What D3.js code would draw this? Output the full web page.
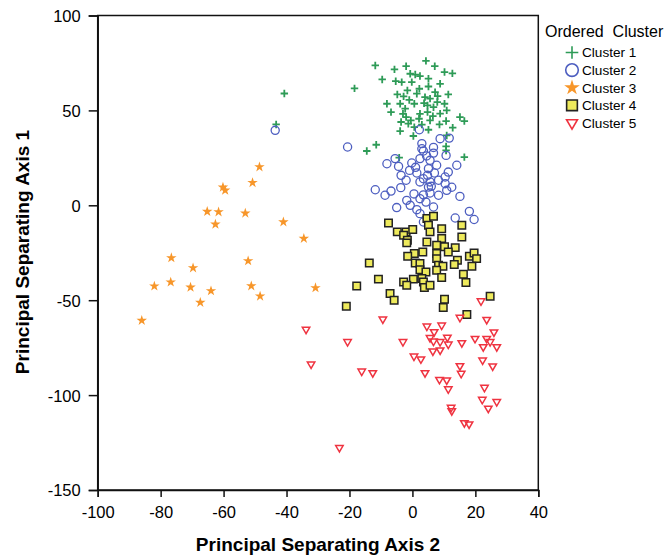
<!DOCTYPE html>
<html>
<head>
<meta charset="utf-8">
<script src="https://cdn.jsdelivr.net/npm/d3@7"></script>
<style>
body{margin:0;background:#fff;}
svg{display:block;font-family:"Liberation Sans",Arial,sans-serif;}
</style>
</head>
<body>
<svg id="chart" width="667" height="555"></svg>
<script>
// data: [axis2, axis1]
var cluster1=[[-40.7,58.9],[-43.3,42.6],[-11.8,73.7],[-5.7,71.6],[-2,73.3],[4.3,76.1],[7.1,73.3],[10.2,70.2],[12.7,69.5],
[-9.6,66.3],[-5.3,65.4],[-3.4,64.9],[-0.2,64.9],[0.9,68.9],[2.4,68.1],[5.1,66.7],[8.8,64],[-18.4,61.6],[-4.8,58.4],
[-1.6,60.5],[2.2,61.4],[5.1,62.6],[7.2,59.6],[11.4,58.4],[-8.1,53.5],[-3.9,53.5],[-2.3,50.9],[0.6,53.5],[3.7,53.8],
[5.6,56.2],[7.9,54.4],[10.2,53.5],[-6.8,49.1],[-3,48.2],[2.4,48.2],[4.8,49.1],[10.9,50],[-3.6,43.9],[-0.5,44.7],
[2.1,45.6],[5.6,44.7],[8.6,42.6],[10.7,44.4],[15.1,46.5],[16.5,44.4],[-3.9,39.1],[0.6,41.2],[5.1,39.8],[12.8,40.9],
[0.3,36.5],[-11.5,31.9],[-14.5,28.6],[10.7,28.9],[16.5,25.4],[-4.2,25.1],[10.7,31],[-0.7,69.3],[1.4,58.8],[4,57],
[6.7,51.7],[8.8,48.3],[-2.8,57.4],[4.8,52.6],[-1.3,43],[10.9,36.8],[-1,55.5],[6.5,47],[3,42.5],[-2,46.5],[8,57.5]];
var cluster2=[[-43.6,39.5],[-20.6,30.7],[2.2,39.8],[8.8,35.1],[11.7,35.4],[3,29.8],[3,32.5],[3.5,28.6],[6.7,27.5],
[10.7,26.3],[2.4,24.6],[5.6,23.7],[-8.1,21.9],[-5.5,24.6],[-4.4,20.5],[-0.2,22.3],[-0.9,18.4],[5.1,19.3],[7.7,21.1],
[14.1,21.1],[11.4,17.5],[-3.6,15.8],[1.4,17],[4.8,15.8],[10.4,14.9],[-2,13.2],[2.4,12.3],[5.6,12.3],[8.3,13.2],
[10.4,11.4],[-11.8,8.2],[-6.8,7.5],[-3.7,9.3],[-8.7,5.3],[5.1,9.6],[5.6,6.5],[10.9,7.9],[8.3,5.3],[15.1,4.7],
[-1.8,2.6],[2.4,3.5],[4.3,1.7],[-5,-1.2],[-0.7,0],[1.4,-2.3],[2.4,-4.4],[6.7,-0.9],[18.1,-3.2],[19.6,-7.5],
[13.6,-6.7],[3.5,-8.8],[6.7,30.5],[4.5,26],[1,20],[7,17],[3.5,14],[6,10],[0.5,6],[3.5,5.5],[12.5,9.5]];
var cluster3=[[-48.6,20.2],[-50.8,11.9],[-60.2,9.5],[-59.5,7.9],[-65.2,-3.3],[-61.6,-3.5],[-53.1,-4.2],[-62.6,-10],
[-41,-8.8],[-34.5,-17.5],[-76.6,-27.7],[-69.7,-33],[-52.2,-29.3],[-82,-42.6],[-76.8,-40.5],[-70.5,-43.2],[-64,-45.1],
[-67.4,-51.2],[-51.2,-42.5],[-48.4,-47.9],[-30.8,-43.5],[-86,-60.7]];
var cluster4=[[-7.6,-9.3],[4.6,-7],[6.7,-5.8],[5.1,-10.5],[9.3,-12.3],[15.7,-10.5],[-4.8,-14],[-2,-14],[0.1,-12.8],
[5.6,-14],[-2.8,-15.8],[-1.6,-18.4],[-1.8,-19.8],[4.6,-19.3],[9.3,-17.5],[15.7,-16.7],[7.7,-21.1],[10.2,-21.9],
[13.6,-22.3],[11.4,-24.6],[0.6,-25.4],[3.3,-24.6],[-1.5,-26.8],[7.7,-25.4],[18.1,-26.8],[19.6,-25.1],[20.4,-28.1],
[7.7,-28.1],[14.3,-28.9],[0.9,-30.4],[2.4,-30.7],[-13.7,-30.4],[13.3,-31.2],[8.3,-31.6],[9.7,-32.1],[18.9,-32.1],
[2.4,-33.9],[7.7,-34.2],[4.3,-35.1],[16.2,-36.3],[-10.8,-38.9],[-2.8,-40.4],[0.3,-38.9],[3,-38.6],[3.5,-40.4],
[9.3,-38.1],[17,-40.7],[-17.7,-42.5],[-1.8,-42.1],[3.8,-43.3],[5.6,-42.1],[-7.1,-46.5],[-5.8,-50],[10.2,-49.5],
[24.7,-47.9],[-21,-53.2],[9.8,-53.8],[17.3,-57.5]];
var cluster5=[[21.8,-50.4],[15.1,-59.1],[23.6,-60.2],[-9.4,-60],[-33.8,-65.4],[4.6,-63.7],[9.3,-63.2],[6.9,-66.7],
[25.9,-66.8],[-20.6,-71.9],[-3,-71.9],[5.6,-69.8],[6.7,-71.6],[8.8,-71.9],[11.1,-69.6],[11.4,-73.2],[15.7,-72.5],
[19.9,-70.2],[23.6,-70.2],[24.7,-71.9],[22.5,-74.6],[26.8,-74.6],[6.5,-76.8],[8.8,-76.3],[0.5,-79.5],[2.7,-81],
[22.3,-81.6],[25.5,-84.7],[-32.2,-83.7],[15.1,-84.6],[15.5,-88.6],[-16.1,-87.4],[-12.6,-88.3],[4,-88.3],[8.6,-91.8],
[10.9,-92.1],[11.4,-96.8],[22.9,-96],[22.2,-102.3],[26.8,-103.5],[24.1,-107],[12.3,-106.5],[12.5,-108.3],
[16.5,-114.6],[18,-115.3],[-23.2,-127.7]];
var clusterNames=["Cluster 1","Cluster 2","Cluster 3","Cluster 4","Cluster 5"];
var xTicks=[-100,-80,-60,-40,-20,0,20,40];
var yTicks=[-150,-100,-50,0,50,100];

var svg=d3.select("#chart");
var mLeft=97.7,mRight=538.3,mTop=15.5,mBottom=490;
var x=d3.scaleLinear().domain([-100,40]).range([mLeft,mRight]);
var y=d3.scaleLinear().domain([-150,100]).range([mBottom,mTop]);

// frame
svg.append("rect").attr("x",mLeft).attr("y",mTop).attr("width",mRight-mLeft).attr("height",mBottom-mTop)
  .attr("fill","none").attr("stroke","#111").attr("stroke-width",1.5);

var xAxis=svg.append("g").attr("transform","translate(0,"+mBottom+")")
  .call(d3.axisBottom(x).tickValues(xTicks).tickSize(7).tickPadding(9).tickFormat(d=>String(d)));
var yAxis=svg.append("g").attr("transform","translate("+mLeft+",0)")
  .call(d3.axisLeft(y).tickValues(yTicks).tickSize(9).tickPadding(8).tickFormat(d=>String(d)));
[xAxis,yAxis].forEach(function(a){
  a.select(".domain").attr("stroke","#111").attr("stroke-width",1.5);
  a.selectAll(".tick line").attr("stroke","#111").attr("stroke-width",1.5);
  a.selectAll(".tick text").attr("fill","#000").style("font-size","16.5px").style("font-family","Liberation Sans, Arial, sans-serif");
});
yAxis.selectAll(".tick text").attr("dy","0.36em");

svg.append("text").attr("x",318).attr("y",551).attr("text-anchor","middle")
  .style("font-size","19px").style("font-weight","bold").text("Principal Separating Axis 2");
svg.append("text").attr("transform","translate(29,252) rotate(-90)").attr("text-anchor","middle")
  .style("font-size","19px").style("font-weight","bold").text("Principal Separating Axis 1");

var colors=["#2e9b57","#4d5ec0","#f7962a","#eeea5c","#ef3340"];
var plus=d3.symbol().type(d3.symbolPlus).size(20);
var circ=d3.symbol().type(d3.symbolCircle).size(52);
var star=d3.symbol().type(d3.symbolStar).size(34);
var sq=d3.symbol().type(d3.symbolSquare).size(56);
var tri=d3.symbol().type(d3.symbolTriangle2).size(40);

function drawMarker(g,i){
  if(i==0) g.append("path").attr("d",plus).attr("fill","none").attr("stroke",colors[0]).attr("stroke-width",1.8);
  if(i==1) g.append("path").attr("d",circ).attr("fill","none").attr("stroke",colors[1]).attr("stroke-width",1.3);
  if(i==2) g.append("path").attr("d",star).attr("fill",colors[2]);
  if(i==3) g.append("path").attr("d",sq).attr("fill",colors[3]).attr("stroke","#222").attr("stroke-width",1.5);
  if(i==4) g.append("path").attr("d",tri).attr("transform","rotate(180)").attr("fill","none").attr("stroke",colors[4]).attr("stroke-width",1.5);
}

var allClusters=[cluster1,cluster2,cluster3,cluster4,cluster5];
allClusters.forEach(function(pts,i){
  var g=svg.append("g");
  g.selectAll("g").data(pts).join("g")
    .attr("transform",d=>"translate("+x(d[0])+","+y(d[1])+")")
    .each(function(){drawMarker(d3.select(this),i);});
});

// legend
var leg=svg.append("g");
leg.append("text").attr("x",545).attr("y",37).style("font-size","16px").style("white-space","pre").text("Ordered  Cluster");
clusterNames.forEach(function(n,i){
  var yy=52.5+i*17.6;
  var g=leg.append("g").attr("transform","translate(572,"+yy+")");
  if(i==0) g.append("path").attr("d",d3.symbol().type(d3.symbolPlus).size(54)).attr("fill","none").attr("stroke",colors[0]).attr("stroke-width",1.6);
  if(i==1) g.append("path").attr("d",d3.symbol().type(d3.symbolCircle).size(125)).attr("fill","none").attr("stroke",colors[1]).attr("stroke-width",1.6);
  if(i==2) g.append("path").attr("d",d3.symbol().type(d3.symbolStar).size(75)).attr("fill",colors[2]);
  if(i==3) g.append("path").attr("d",d3.symbol().type(d3.symbolSquare).size(115)).attr("fill",colors[3]).attr("stroke","#222").attr("stroke-width",1.6);
  if(i==4) g.append("path").attr("d",d3.symbol().type(d3.symbolTriangle2).size(85)).attr("transform","rotate(180)").attr("fill","none").attr("stroke",colors[4]).attr("stroke-width",1.6);
  leg.append("text").attr("x",582).attr("y",yy).attr("dy","0.36em").style("font-size","13.6px").text(n);
});
</script>
</body>
</html>
